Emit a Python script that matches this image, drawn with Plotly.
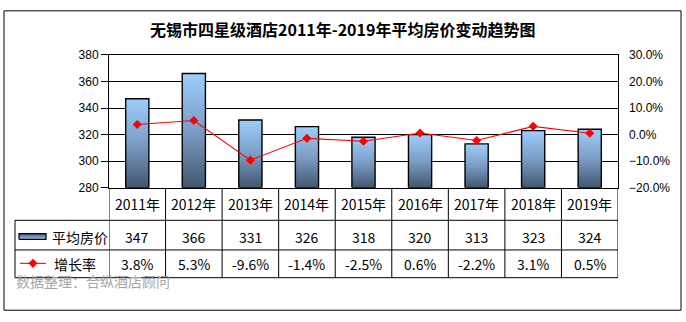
import plotly.graph_objects as go

# Data
years = ["2011年", "2012年", "2013年", "2014年", "2015年", "2016年", "2017年", "2018年", "2019年"]
avg_price = [347, 366, 331, 326, 318, 320, 313, 323, 324]
growth_pct = [3.8, 5.3, -9.6, -1.4, -2.5, 0.6, -2.2, 3.1, 0.5]

title_text = "无锡市四星级酒店2011年-2019年平均房价变动趋势图"
price_label = "平均房价"
growth_label = "增长率"
source_text = "数据整理：合纵酒店顾问"

W, H = 686, 322
FONT_CJK = "Noto Sans CJK SC, Microsoft YaHei, sans-serif"
FONT_AX = "Liberation Sans, Arial, sans-serif"

BAR_GRAD = [[0, "#42566f"], [0.5, "#7b9dc5"], [1, "#9ecefc"]]
BAR_HALF = 0.205
Y_MIN, Y_MAX = 280, 380

# pixel-based layout helpers
def px_x(p):
    return p / W

def px_y(p):
    return 1 - p / H

plot_left, plot_right, plot_top, plot_bottom = 109, 618, 50, 189
row_hdr_bottom, row2_bottom, row3_bottom = 223, 254, 283
table_left = 15

fig = go.Figure()

# Bars drawn as filled shapes so each carries its own vertical gradient
for i, v in enumerate(avg_price):
    fig.add_trace(go.Scatter(
        x=[i - BAR_HALF, i + BAR_HALF, i + BAR_HALF, i - BAR_HALF, i - BAR_HALF],
        y=[Y_MIN, Y_MIN, v, v, Y_MIN],
        mode="lines", fill="toself",
        fillgradient=dict(type="vertical", colorscale=BAR_GRAD),
        line=dict(color="black", width=1.4),
        hoverinfo="skip", showlegend=False,
        xaxis="x", yaxis="y",
    ))

# Growth rate line on the secondary axis
fig.add_trace(go.Scatter(
    x=list(range(len(years))),
    y=[g / 100 for g in growth_pct],
    mode="lines+markers",
    line=dict(color="#ff0000", width=1.1),
    marker=dict(symbol="diamond", size=7, color="#ff0000"),
    showlegend=False, xaxis="x", yaxis="y2",
))

# Legend keys inside the data table (pixel overlay axes)
kx0, kx1, ky0, ky1 = 19, 46, 237, 243
fig.add_trace(go.Scatter(
    x=[kx0, kx1, kx1, kx0, kx0], y=[ky1, ky1, ky0, ky0, ky1],
    mode="lines", fill="toself",
    fillgradient=dict(type="vertical", colorscale=[[0, "#9ecefc"], [1, "#42566f"]]),
    line=dict(color="black", width=1.2),
    hoverinfo="skip", showlegend=False, xaxis="x2", yaxis="y3",
))
fig.add_trace(go.Scatter(
    x=[20, 46], y=[268, 268], mode="lines",
    line=dict(color="#ff0000", width=1.1),
    hoverinfo="skip", showlegend=False, xaxis="x2", yaxis="y3",
))
fig.add_trace(go.Scatter(
    x=[33], y=[268], mode="markers",
    marker=dict(symbol="diamond", size=7, color="#ff0000"),
    hoverinfo="skip", showlegend=False, xaxis="x2", yaxis="y3",
))

shapes = []
line_k = dict(color="black", width=1)
# outer frame
shapes.append(dict(type="rect", xref="paper", yref="paper",
                   x0=px_x(4), x1=px_x(681), y0=px_y(317), y1=px_y(4), line=line_k))
# table column separators
for i in range(len(years) + 1):
    shapes.append(dict(type="line", xref="x", yref="paper",
                       x0=i - 0.5, x1=i - 0.5, y0=px_y(plot_bottom), y1=px_y(row3_bottom), line=line_k))
# table left edge (data rows only)
shapes.append(dict(type="line", xref="paper", yref="paper",
                   x0=px_x(table_left), x1=px_x(table_left),
                   y0=px_y(row_hdr_bottom), y1=px_y(row3_bottom), line=line_k))
# table row lines
for yy in (row_hdr_bottom, row2_bottom, row3_bottom):
    shapes.append(dict(type="line", xref="paper", yref="paper",
                       x0=px_x(table_left), x1=px_x(plot_right),
                       y0=px_y(yy), y1=px_y(yy), line=line_k))

annotations = []
tfont = dict(family=FONT_CJK, size=14, color="black")
for i, (yr, p, g) in enumerate(zip(years, avg_price, growth_pct)):
    annotations.append(dict(x=i, y=px_y(206), xref="x", yref="paper", text=yr,
                            showarrow=False, font=tfont, xanchor="center", yanchor="middle"))
    annotations.append(dict(x=i, y=px_y(240), xref="x", yref="paper", text=str(p),
                            showarrow=False, font=tfont, xanchor="center", yanchor="middle"))
    annotations.append(dict(x=i, y=px_y(269), xref="x", yref="paper", text=f"{g:.1f}%",
                            showarrow=False, font=tfont, xanchor="center", yanchor="middle"))
annotations.append(dict(x=px_x(50), y=px_y(240), xref="paper", yref="paper", text=price_label,
                        showarrow=False, font=tfont, xanchor="left", yanchor="middle"))
annotations.append(dict(x=px_x(52), y=px_y(269), xref="paper", yref="paper", text=growth_label,
                        showarrow=False, font=tfont, xanchor="left", yanchor="middle"))
annotations.append(dict(x=px_x(14), y=px_y(286), xref="paper", yref="paper", text=source_text,
                        showarrow=False, font=dict(family=FONT_CJK, size=14, color="#a6a6a6"),
                        xanchor="left", yanchor="middle"))
annotations.append(dict(x=px_x(342), y=px_y(23), xref="paper", yref="paper",
                        text=f"<b>{title_text}</b>", showarrow=False,
                        font=dict(family=FONT_CJK, size=16, color="black"),
                        xanchor="center", yanchor="middle"))

fig.update_layout(
    width=W, height=H,
    margin=dict(l=0, r=0, t=0, b=0),
    paper_bgcolor="white", plot_bgcolor="rgba(0,0,0,0)",
    showlegend=False,
    xaxis=dict(domain=[px_x(plot_left), px_x(plot_right)], range=[-0.5, len(years) - 0.5],
               showticklabels=False, ticks="", showgrid=False, zeroline=False,
               showline=True, linecolor="black", linewidth=1, mirror=True, fixedrange=True),
    yaxis=dict(domain=[px_y(plot_bottom), px_y(plot_top)], range=[Y_MIN, Y_MAX], dtick=20,
               showgrid=True, gridcolor="black", gridwidth=1, zeroline=False,
               showline=True, linecolor="black", linewidth=1, mirror=True,
               ticks="outside", ticklen=7, tickcolor="black",
               tickfont=dict(family=FONT_AX, size=12, color="black"), fixedrange=True),
    yaxis2=dict(overlaying="y", side="right", anchor="x", range=[-0.2, 0.3], dtick=0.1,
                tickformat=".1%", showgrid=False, zeroline=False, showline=False,
                ticks="", ticklabelstandoff=10,
                tickfont=dict(family=FONT_AX, size=12, color="black"), fixedrange=True),
    xaxis2=dict(domain=[0, 1], range=[0, W], visible=False, anchor="y3", fixedrange=True),
    yaxis3=dict(domain=[0, 1], range=[H, 0], visible=False, anchor="x2", fixedrange=True),
    shapes=shapes,
    annotations=annotations,
)

fig.write_html("out.html")
